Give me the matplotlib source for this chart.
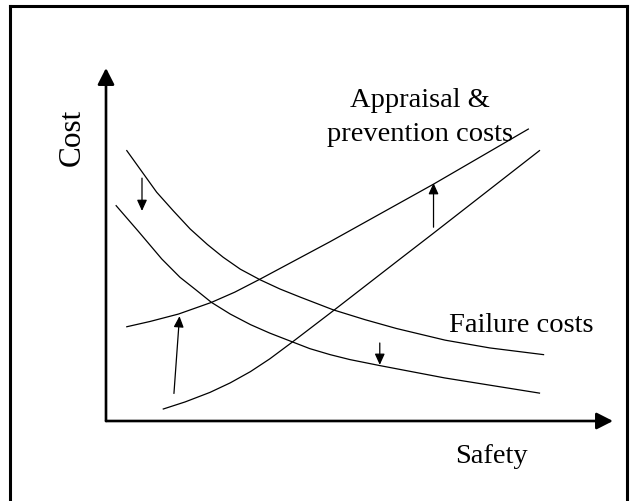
import matplotlib
matplotlib.use("Agg")
import matplotlib.pyplot as plt
from matplotlib.lines import Line2D

# ---- data (Safety on x, Cost on y, both on a 0-100 schematic scale) ----
failure_hi_x = [4.1, 10.0, 13.3, 16.6, 20.0, 23.1, 26.5, 30.4, 34.3, 38.3, 44.8, 51.1, 57.3, 66.9, 75.7, 86.3]
failure_hi_y = [76.6, 64.8, 59.5, 54.4, 50.0, 46.4, 43.0, 40.0, 37.4, 35.1, 31.5, 28.7, 26.2, 22.9, 20.7, 18.8]

failure_lo_x = [2.0, 6.4, 11.0, 14.6, 17.6, 20.8, 24.5, 28.5, 32.3, 36.6, 40.2, 44.2, 48.1, 54.0, 66.8, 85.5]
failure_lo_y = [61.0, 53.7, 45.9, 40.7, 37.3, 33.6, 30.3, 27.3, 24.9, 22.5, 20.5, 18.8, 17.4, 15.7, 12.2, 7.9]

apprais_hi_x = [4.1, 8.7, 14.3, 20.8, 25.4, 30.4, 44.2, 64.6, 83.3]
apprais_hi_y = [26.7, 28.2, 30.3, 33.6, 36.5, 40.2, 50.8, 67.1, 82.7]

apprais_lo_x = [11.3, 15.6, 20.5, 24.5, 28.5, 32.3, 36.6, 44.8, 58.0, 64.5, 85.5]
apprais_lo_y = [3.4, 5.4, 8.1, 10.8, 14.0, 17.6, 22.2, 31.2, 45.9, 53.1, 76.6]

# shift arrows: (x_start, y_start, x_end, y_end)
shift_arrows = [
    (7.1, 68.8, 7.1, 59.5),
    (13.4, 7.8, 14.5, 29.7),
    (64.6, 54.9, 64.6, 67.4),
    (54.0, 22.1, 54.0, 15.9),
]

axis_max = 100
x_label = "Safety"
y_label = "Cost"
label_apprais = ["Appraisal &", "prevention costs"]
label_failure = "Failure costs"

# ---- figure ----
W, H = 634, 502
fig = plt.figure(figsize=(W / 100, H / 100), dpi=100)
fig.patch.set_facecolor("white")

# outer frame (top, left, right; open at bottom)
frame_kw = dict(color="black", lw=2.2, transform=fig.transFigure, solid_capstyle="projecting")
fig.add_artist(Line2D([10 / W, 10 / W], [0, 1 - 7.3 / H], **frame_kw))
fig.add_artist(Line2D([10 / W, 627 / W], [1 - 7.3 / H, 1 - 7.3 / H], **frame_kw))
fig.add_artist(Line2D([627 / W, 627 / W], [0, 1 - 7.3 / H], **frame_kw))

ax = fig.add_axes([106 / W, (H - 422) / H, 507 / W, 353 / H])
ax.set_xlim(0, axis_max)
ax.set_ylim(0, axis_max)
ax.axis("off")

# axes with arrowheads
ax_kw = dict(arrowstyle="-|>,head_length=0.55,head_width=0.28", lw=1.9, color="black",
             shrinkA=0, shrinkB=0, mutation_scale=18)
ax.annotate("", xy=(axis_max, 0), xytext=(0, 0), arrowprops=ax_kw, annotation_clip=False)
ax.annotate("", xy=(0, axis_max), xytext=(0, 0), arrowprops=ax_kw, annotation_clip=False)

line_kw = dict(color="black", lw=0.9, solid_joinstyle="round", clip_on=False)
ax.plot(failure_hi_x, failure_hi_y, **line_kw)
ax.plot(failure_lo_x, failure_lo_y, **line_kw)
ax.plot(apprais_hi_x, apprais_hi_y, **line_kw)
ax.plot(apprais_lo_x, apprais_lo_y, **line_kw)

sm_kw = dict(arrowstyle="-|>,head_length=0.55,head_width=0.25", lw=0.9, color="black",
             shrinkA=0, shrinkB=0, mutation_scale=12)
for x0, y0, x1, y1 in shift_arrows:
    ax.annotate("", xy=(x1, y1), xytext=(x0, y0), arrowprops=sm_kw, annotation_clip=False)

fam = ["Liberation Serif", "DejaVu Serif"]
fs = 20.5
ax.text(61.9, 89.3, label_apprais[0], ha="center", va="baseline", fontsize=fs, family=fam)
ax.text(61.9, 79.6, label_apprais[1], ha="center", va="baseline", fontsize=fs, family=fam)
ax.text(81.9, 25.6, label_failure, ha="center", va="baseline", fontsize=fs, family=fam)
ax.text(76.0, -11.6, x_label, ha="center", va="baseline", fontsize=fs, family=fam)
ax.text(-6.7, 80.5, y_label, ha="center", va="center", rotation=90, fontsize=22.5, family=fam)

fig.savefig("out.png", dpi=100, facecolor="white")
